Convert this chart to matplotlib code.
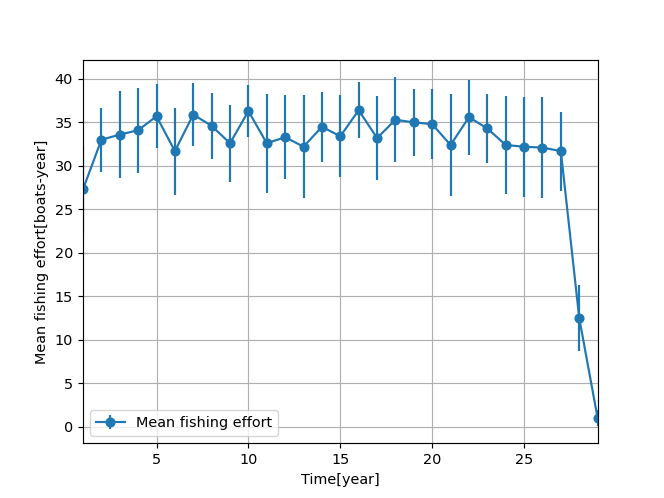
import numpy as np
import matplotlib
matplotlib.use("Agg")
import matplotlib.pyplot as plt

# ---------------- Data ----------------
years = np.arange(1, 30)
mean_effort = [27.3, 33.0, 33.6, 34.1, 35.7, 31.7, 35.9, 34.6, 32.6, 36.3,
               32.6, 33.3, 32.2, 34.5, 33.4, 36.4, 33.2, 35.3, 35.0, 34.8,
               32.4, 35.6, 34.3, 32.4, 32.2, 32.1, 31.7, 12.5, 1.0]
effort_err = [5.0, 3.7, 5.0, 4.9, 3.7, 5.0, 3.6, 3.8, 4.4, 3.0,
              5.7, 4.8, 5.9, 4.05, 4.7, 3.2, 4.8, 4.9, 3.85, 4.05,
              5.9, 4.3, 3.95, 5.65, 5.75, 5.8, 4.55, 3.8, 0.9]

fig = plt.figure(figsize=(6.4, 4.8), dpi=103.75)
plt.errorbar(years, mean_effort, yerr=effort_err, fmt='-o', label="Mean fishing effort")
plt.xlim(1, 29)
plt.xlabel("Time[year]")
plt.ylabel("Mean fishing effort[boats-year]")
plt.grid(True)
plt.legend(loc="lower left")

plt.savefig("out.png", dpi=103.75)
